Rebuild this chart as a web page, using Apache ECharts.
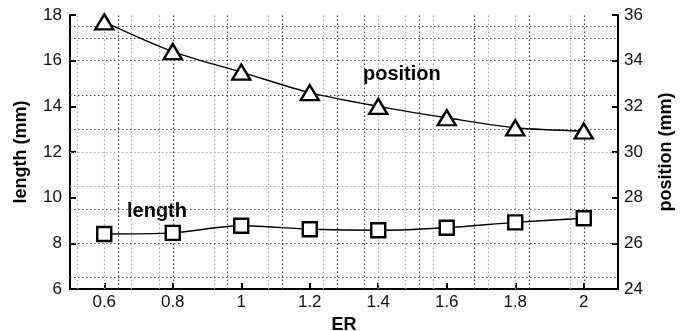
<!DOCTYPE html>
<html>
<head>
<meta charset="utf-8">
<script src="https://cdn.jsdelivr.net/npm/echarts@6/dist/echarts.min.js"></script>
<style>html,body{margin:0;padding:0;background:#fff}#c{width:688px;height:331px}</style>
</head>
<body>
<div id="c"></div>
<script>
var erValues = [0.6, 0.8, 1.0, 1.2, 1.4, 1.6, 1.8, 2.0];
var lengthValues = [8.41, 8.46, 8.77, 8.62, 8.57, 8.68, 8.92, 9.10];
var positionValues = [35.7, 34.4, 33.5, 32.6, 32.0, 31.5, 31.06, 30.92];
var xTicks = [0.6, 0.8, 1.0, 1.2, 1.4, 1.6, 1.8, 2.0];
var gridXDark = [0.64, 0.8, 0.96, 1.12, 1.28, 1.36, 1.52, 1.68, 1.84, 2.0];
var gridXLight = [0.52, 0.6, 0.68, 0.76, 0.92, 1.08, 1.24, 1.4, 1.48, 1.56, 1.72, 1.8, 1.96];
var gridYDark = [17.5, 17, 16, 14.5, 13, 9.5, 8, 6.5];
var gridYLight = [12, 10.5];

var font = '"Liberation Sans", Arial, Helvetica, sans-serif';
function pairs(xs, ys) { return xs.map(function (x, i) { return [x, ys[i]]; }); }
var mlData = [];
gridXDark.forEach(function (v) { mlData.push({ xAxis: v, lineStyle: { color: '#3a3a3a' } }); });
gridXLight.forEach(function (v) { mlData.push({ xAxis: v, lineStyle: { color: '#a8a8a8' } }); });
gridYDark.forEach(function (v) { mlData.push({ yAxis: v, lineStyle: { color: '#4a4a4a' } }); });
gridYLight.forEach(function (v) { mlData.push({ yAxis: v, lineStyle: { color: '#a8a8a8' } }); });

var axisCommon = {
  axisLine: { show: true, lineStyle: { color: '#000', width: 2 } },
  axisTick: { show: true, inside: true, length: 6, lineStyle: { color: '#000', width: 2 } },
  axisLabel: { color: '#111', fontSize: 17, fontFamily: font },
  splitLine: { show: false },
  nameTextStyle: { color: '#000', fontSize: 18, fontWeight: 'bold', fontFamily: font }
};

var chart = echarts.init(document.getElementById('c'), null, { renderer: 'canvas' });
chart.setOption({
  animation: false,
  grid: { left: 70, right: 70, top: 15, bottom: 42, containLabel: false, outerBoundsMode: 'none' },
  xAxis: Object.assign({}, axisCommon, {
    type: 'value', min: 0.5, max: 2.1,
    name: 'ER', nameLocation: 'middle', nameGap: 23,
    axisTick: Object.assign({}, axisCommon.axisTick, { customValues: xTicks }),
    axisLabel: Object.assign({}, axisCommon.axisLabel, { customValues: xTicks, margin: 5 })
  }),
  yAxis: [
    Object.assign({}, axisCommon, {
      type: 'value', min: 6, max: 18, interval: 2, position: 'left',
      name: 'length (mm)', nameLocation: 'middle', nameGap: 40,
      axisLabel: Object.assign({}, axisCommon.axisLabel, { margin: 8 })
    }),
    Object.assign({}, axisCommon, {
      type: 'value', min: 24, max: 36, interval: 2, position: 'right',
      name: 'position (mm)', nameLocation: 'middle', nameGap: 39,
      axisLabel: Object.assign({}, axisCommon.axisLabel, { margin: 6 })
    })
  ],
  graphic: [
    { type: 'text', left: 363, top: 64, style: { text: 'position', fill: '#000', font: 'bold 20px ' + font } },
    { type: 'text', left: 127, top: 201, style: { text: 'length', fill: '#000', font: 'bold 20px ' + font } }
  ],
  series: [
    {
      type: 'line', yAxisIndex: 0, z: 3,
      data: pairs(erValues, lengthValues), smooth: 0.3,
      symbol: 'rect', symbolSize: 14,
      lineStyle: { color: '#000', width: 1.4 },
      itemStyle: { color: '#fff', borderColor: '#000', borderWidth: 2.4 },
      markLine: { silent: true, symbol: 'none', label: { show: false }, z: 1,
        lineStyle: { type: [1.5, 2.5], width: 1.2 }, data: mlData }
    },
    {
      type: 'line', yAxisIndex: 1, z: 3,
      data: pairs(erValues, positionValues), smooth: 0.3,
      symbol: 'triangle', symbolSize: [18, 15],
      lineStyle: { color: '#000', width: 1.4 },
      itemStyle: { color: '#fff', borderColor: '#000', borderWidth: 2.4 }
    }
  ]
});
</script>
</body>
</html>
